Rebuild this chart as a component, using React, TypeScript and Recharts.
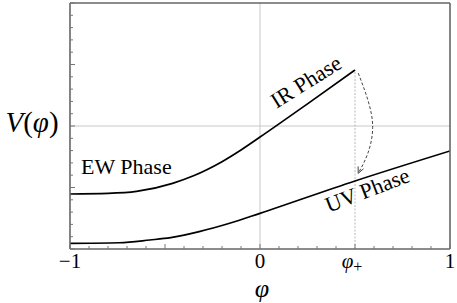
import React from "react";
import { LineChart, Line, XAxis, YAxis, ReferenceLine, ReferenceDot } from "recharts";

// potential curves (phi, V)
const phiIr = [-1, -0.8, -0.65, -0.46, -0.35, -0.28, -0.2, -0.1, 0, 0.25, 0.5];
const vIr = [0.447, 0.452, 0.468, 0.534, 0.595, 0.645, 0.71, 0.805, 0.91, 1.18, 1.455];
const phiUv = [-1, -0.74, -0.58, -0.47, -0.32, -0.16, 0, 0.5, 1];
const vUv = [0.046, 0.051, 0.073, 0.092, 0.141, 0.209, 0.29, 0.553, 0.797];

// dashed transition arrow
const phiArrow = [0.517, 0.568, 0.593, 0.568, 0.517];
const vArrow = [1.43, 1.21, 0.99, 0.78, 0.615];

// tick labels
const xTicks = [-1, 0, 0.5, 1];
const xTickLabels = ["−1", "0", "φ", "1"];
const xTickSubs = ["", "", "+", ""];

// frame ticks
const xMinor = [-1, -0.9, -0.8, -0.7, -0.6, -0.5, -0.4, -0.3, -0.2, -0.1, 0, 0.1, 0.2, 0.3, 0.4, 0.5, 0.6, 0.7, 0.8, 0.9, 1];
const yMinor = [0, 0.1, 0.2, 0.3, 0.4, 0.5, 0.6, 0.7, 0.8, 0.9, 1, 1.1, 1.2, 1.3, 1.4, 1.5, 1.6, 1.7, 1.8, 1.9, 2];

const serif = "'Liberation Serif', 'DejaVu Serif', 'Noto Serif', 'Times New Roman', Times, serif";

const toRows = (xs: number[], ys: number[]) => xs.map((x, i) => ({ x, y: ys[i] }));

const frame = { stroke: "#666", strokeWidth: 1.6 };
const tickColor = "#777";

const isMajor = (v: number) => Math.abs(v * 2 - Math.round(v * 2)) < 1e-6;

const Note = (props: any) => {
  const { viewBox, children, rot = 0, size = 22, anchor = "middle" } = props;
  const cx = viewBox.x + (viewBox.width || 0) / 2;
  const cy = viewBox.y + (viewBox.height || 0) / 2;
  return (
    <text
      x={cx}
      y={cy}
      transform={rot ? `rotate(${rot} ${cx} ${cy})` : undefined}
      textAnchor={anchor}
      fontSize={size}
      fill="#000"
      style={{ fontFamily: serif }}
    >
      {children}
    </text>
  );
};

const frameTick = (side: string) => (p: any) => {
  const v = p.payload.value;
  const len = isMajor(v) ? 5 : 3;
  let x2 = p.x;
  let y2 = p.y;
  if (side === "bottom") y2 = p.y - len;
  if (side === "top") y2 = p.y + len;
  if (side === "left") x2 = p.x + len;
  if (side === "right") x2 = p.x - len;
  const i = side === "bottom" ? xTicks.findIndex((t) => Math.abs(t - v) < 1e-6) : -1;
  return (
    <g>
      <line x1={p.x} y1={p.y} x2={x2} y2={y2} stroke={tickColor} strokeWidth={1} />
      {i >= 0 && (
        <text
          x={p.x + (xTickSubs[i] ? -3 : 0)}
          y={p.y + 19}
          textAnchor="middle"
          fontSize={21}
          fill="#000"
          style={{ fontFamily: serif }}
        >
          <tspan fontStyle={xTickLabels[i] === "φ" ? "italic" : "normal"}>{xTickLabels[i]}</tspan>
          {xTickSubs[i] && (
            <tspan fontSize={16} dy={4}>
              {xTickSubs[i]}
            </tspan>
          )}
        </text>
      )}
    </g>
  );
};

const renderArrowHead = (p: any) => {
  if (p.index !== phiArrow.length - 1) return <g key={p.index} />;
  // travel direction at the tip (down and slightly left)
  const bx = 0.406;
  const by = -0.914;
  const len = 7;
  const a = (25 * Math.PI) / 180;
  const w1x = (bx * Math.cos(a) - by * Math.sin(a)) * len;
  const w1y = (bx * Math.sin(a) + by * Math.cos(a)) * len;
  const w2x = (bx * Math.cos(a) + by * Math.sin(a)) * len;
  const w2y = (-bx * Math.sin(a) + by * Math.cos(a)) * len;
  return (
    <path
      key={p.index}
      d={`M${p.cx + w1x},${p.cy + w1y} L${p.cx},${p.cy} L${p.cx + w2x},${p.cy + w2y}`}
      fill="none"
      stroke="#444"
      strokeWidth={1}
    />
  );
};

export default function App() {
  const irRows = toRows(phiIr, vIr);
  const uvRows = toRows(phiUv, vUv);
  const arrowRows = toRows(phiArrow, vArrow);
  const irEnd = vIr[vIr.length - 1];

  return (
    <div style={{ position: "absolute", left: 0, top: 0, width: 457, height: 303, background: "#fff" }}>
      <LineChart width={457} height={303} margin={{ top: 2, right: 6, bottom: 53, left: 69 }}>
        <XAxis
          xAxisId="x"
          type="number"
          dataKey="x"
          domain={[-1, 1]}
          ticks={xMinor}
          interval={0}
          height={1}
          tickSize={0}
          tickMargin={0}
          axisLine={frame}
          tickLine={false}
          tick={frameTick("bottom")}
          allowDataOverflow
        />
        <XAxis
          xAxisId="top"
          orientation="top"
          type="number"
          domain={[-1, 1]}
          ticks={xMinor}
          interval={0}
          height={1}
          tickSize={0}
          tickMargin={0}
          axisLine={frame}
          tickLine={false}
          tick={frameTick("top")}
        />
        <YAxis
          yAxisId="y"
          type="number"
          domain={[0, 2]}
          ticks={yMinor}
          interval={0}
          width={1}
          tickSize={0}
          tickMargin={0}
          axisLine={frame}
          tickLine={false}
          tick={frameTick("left")}
          allowDataOverflow
        />
        <YAxis
          yAxisId="right"
          orientation="right"
          type="number"
          domain={[0, 2]}
          ticks={yMinor}
          interval={0}
          width={1}
          tickSize={0}
          tickMargin={0}
          axisLine={frame}
          tickLine={false}
          tick={frameTick("right")}
        />

        <ReferenceLine xAxisId="x" yAxisId="y" x={0} stroke="#c8c8c8" strokeWidth={1} />
        <ReferenceLine xAxisId="x" yAxisId="y" y={1} stroke="#c8c8c8" strokeWidth={1} />
        <ReferenceLine
          xAxisId="x"
          yAxisId="y"
          segment={[{ x: 0.5, y: 0 }, { x: 0.5, y: irEnd }]}
          stroke="#b8b8b8"
          strokeWidth={1}
          strokeDasharray="2 1.5"
        />

        <Line xAxisId="x" yAxisId="y" data={irRows} dataKey="y" type="monotone" stroke="#000" strokeWidth={1.7} dot={false} activeDot={false} isAnimationActive={false} />
        <Line xAxisId="x" yAxisId="y" data={uvRows} dataKey="y" type="monotone" stroke="#000" strokeWidth={1.7} dot={false} activeDot={false} isAnimationActive={false} />
        <Line
          xAxisId="x"
          yAxisId="y"
          data={arrowRows}
          dataKey="y"
          type="natural"
          stroke="#444"
          strokeWidth={1}
          strokeDasharray="3 2"
          dot={renderArrowHead}
          activeDot={false}
          isAnimationActive={false}
        />

        <ReferenceDot xAxisId="x" yAxisId="y" x={-0.942} y={0.61} r={0} fill="none" stroke="none" label={<Note anchor="start">EW Phase</Note>} />
        <ReferenceDot xAxisId="x" yAxisId="y" x={0.263} y={1.309} r={0} fill="none" stroke="none" label={<Note rot={-32}>IR Phase</Note>} />
        <ReferenceDot xAxisId="x" yAxisId="y" x={0.579} y={0.423} r={0} fill="none" stroke="none" label={<Note rot={-21}>UV Phase</Note>} />
        <ReferenceDot
          xAxisId="x"
          yAxisId="y"
          x={-1.2}
          y={0.951}
          r={0}
          fill="none"
          stroke="none"
          ifOverflow="visible"
          label={
            <Note size={29}>
              <tspan fontStyle="italic">V</tspan>
              <tspan>(</tspan>
              <tspan fontStyle="italic">φ</tspan>
              <tspan>)</tspan>
            </Note>
          }
        />
        <ReferenceDot
          xAxisId="x"
          yAxisId="y"
          x={0.01}
          y={-0.39}
          r={0}
          fill="none"
          stroke="none"
          ifOverflow="visible"
          label={
            <Note size={26}>
              <tspan fontStyle="italic">φ</tspan>
            </Note>
          }
        />
      </LineChart>
    </div>
  );
}
